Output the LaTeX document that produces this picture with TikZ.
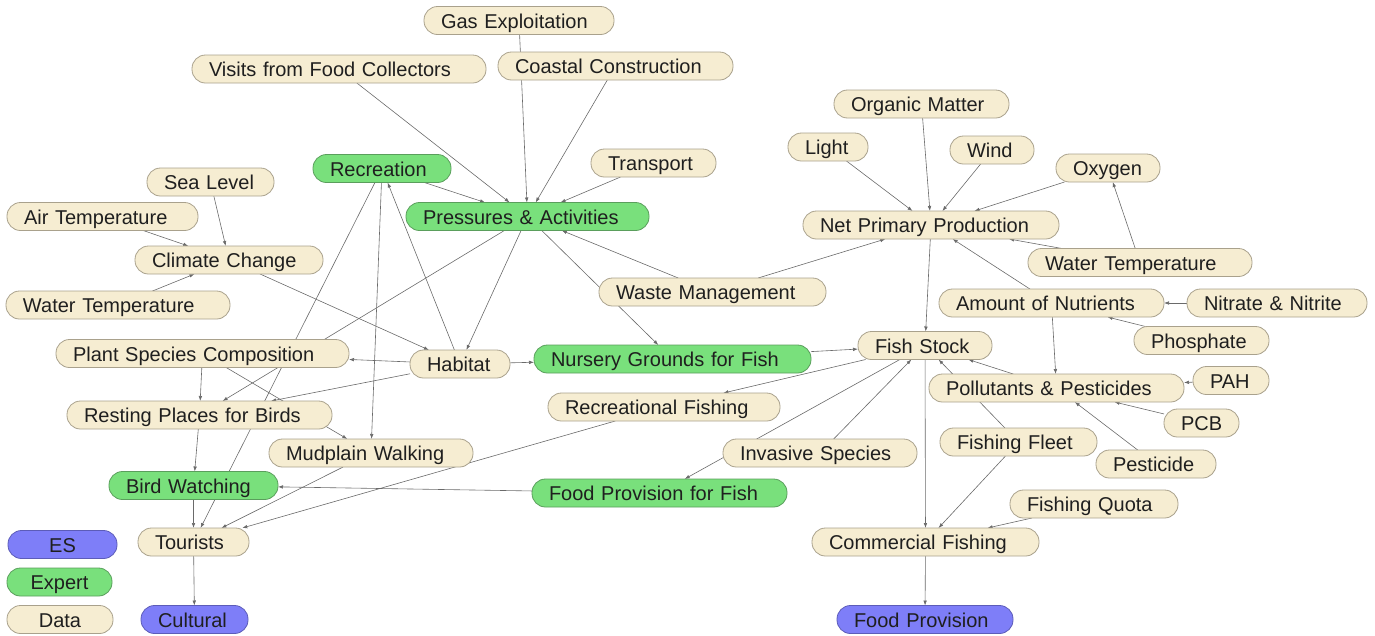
\documentclass[tikz,border=0pt]{standalone}
\usepackage{fontspec}
\setmainfont{Liberation Sans}
\usetikzlibrary{arrows.meta,backgrounds}

\definecolor{databg}{HTML}{F6EDD2}
\definecolor{dataln}{HTML}{A9A18C}
\definecolor{expbg}{HTML}{79E07C}
\definecolor{expln}{HTML}{5A9E5C}
\definecolor{esbg}{HTML}{7E7EF8}
\definecolor{esln}{HTML}{5C5CB8}
\definecolor{edgeln}{HTML}{6A6A6A}

\tikzset{
  box/.style={rectangle, rounded corners=13.5pt, anchor=west, outer sep=0pt,
    minimum height=28pt, inner ysep=0pt, inner xsep=17pt, align=left,
    text height=16pt, text depth=1pt, line width=0.8pt,
    font=\fontsize{20pt}{24pt}\selectfont, text=black!88},
  bw/.code={\pgfmathsetmacro\boxtw{#1-34}\tikzset{text width=\boxtw pt}},
  databox/.style={box, fill=databg, draw=dataln, bw=#1},
  expbox/.style={box, fill=expbg, draw=expln, bw=#1},
  esbox/.style={box, fill=esbg, draw=esln, bw=#1},
  legend/.style={align=center},
  link/.style={draw=edgeln, line width=0.6pt, -{Latex[length=5pt,width=3.6pt]}},
}

\begin{document}
\begin{tikzpicture}[x=1pt, y=-1pt]
\useasboundingbox (0,0) rectangle (1375,635);

% top: pressures and their drivers
\node[databox=190] (gas) at (424,20.5) {Gas Exploitation};
\node[databox=294] (visits) at (192,69) {Visits from Food Collectors};
\node[databox=235] (coastal) at (498,66) {Coastal Construction};
\node[databox=125] (transport) at (591,163) {Transport};
\node[expbox=138] (recreation) at (313,168.5) {Recreation};
\node[expbox=243] (pressures) at (406,216.5) {Pressures \& Activities};
\node[databox=227] (waste) at (599,292) {Waste Management};

% climate block
\node[databox=127] (sealevel) at (147,182) {Sea Level};
\node[databox=191] (airtemp) at (7,216.5) {Air Temperature};
\node[databox=188] (climate) at (135,260) {Climate Change};
\node[databox=224] (watertempL) at (6,305) {Water Temperature};

% primary production block
\node[databox=175] (organic) at (834,104) {Organic Matter};
\node[databox=80] (light) at (788,147) {Light};
\node[databox=84] (wind) at (950,150) {Wind};
\node[databox=104] (oxygen) at (1056,168) {Oxygen};
\node[databox=256] (npp) at (803,225) {Net Primary Production};
\node[databox=224] (watertempR) at (1028,262.5) {Water Temperature};
\node[databox=225] (nutrients) at (939,303) {Amount of Nutrients};
\node[databox=180] (nitrate) at (1187,303) {Nitrate \& Nitrite};
\node[databox=135] (phosphate) at (1134,340.5) {Phosphate};

% fish block
\node[databox=134] (fishstock) at (858,345.5) {Fish Stock};
\node[databox=76] (pah) at (1193,380.5) {PAH};
\node[databox=255] (pollutants) at (929,388) {Pollutants \& Pesticides};
\node[databox=75] (pcb) at (1164,423) {PCB};
\node[databox=157] (fleet) at (940,442) {Fishing Fleet};
\node[databox=120] (pesticide) at (1096,464) {Pesticide};
\node[databox=168] (quota) at (1010,504) {Fishing Quota};
\node[databox=227] (commercial) at (812,542) {Commercial Fishing};
\node[esbox=176] (foodprov) at (837,619.5) {Food Provision};
\node[databox=194] (invasive) at (723,453) {Invasive Species};

% habitat block
\node[databox=100] (habitat) at (410,364) {Habitat};
\node[expbox=277] (nursery) at (534,359) {Nursery Grounds for Fish};
\node[databox=232] (recfishing) at (548,407) {Recreational Fishing};
\node[expbox=255] (foodfish) at (532,493) {Food Provision for Fish};
\node[databox=293] (psc) at (56,353.5) {Plant Species Composition};
\node[databox=265] (rpb) at (67,415) {Resting Places for Birds};
\node[databox=204] (mudplain) at (269,453) {Mudplain Walking};
\node[expbox=169] (birdwatch) at (109,485.5) {Bird Watching};
\node[databox=111] (tourists) at (138,542) {Tourists};
\node[esbox=107] (cultural) at (141,619.5) {Cultural};

% legend
\node[esbox=109, legend] (lges) at (8,544.5) {ES};
\node[expbox=105, legend] (lgexpert) at (7,582) {Expert};
\node[databox=106, legend] (lgdata) at (7,619.5) {Data};

\begin{scope}[on background layer]
  \draw[link] (airtemp) -- (climate);
  \draw[link] (sealevel) -- (climate);
  \draw[link] (watertempL) -- (climate);
  \draw[link] (climate) -- (habitat);

  \draw[link] (visits) -- (pressures);
  \draw[link] (gas) -- (pressures);
  \draw[link] (coastal) -- (pressures);
  \draw[link] (transport) -- (pressures);
  \draw[link] (recreation) -- (pressures);
  \draw[link] (waste) -- (pressures);
  \draw[link] (waste) -- (npp);
  \draw[link] (pressures) -- (nursery);
  \draw[link] (pressures) -- (habitat);
  \draw[link] (pressures) -- (rpb);

  \draw[link] (psc) -- (rpb);
  \draw[link] (psc) -- (mudplain);
  \draw[link] (recreation) -- (tourists);
  \draw[link] (recreation) -- (mudplain);
  \draw[link] (habitat) -- (recreation);
  \draw[link] (habitat) -- (psc);
  \draw[link] (habitat) -- (rpb);
  \draw[link] (habitat) -- (nursery);
  \draw[link] (rpb) -- (birdwatch);
  \draw[link] (birdwatch) -- (tourists);
  \draw[link] (mudplain) -- (tourists);
  \draw[link] (recfishing) -- (tourists);
  \draw[link] (foodfish) -- (birdwatch);
  \draw[link] (tourists) -- (cultural);

  \draw[link] (nursery) -- (fishstock);
  \draw[link] (fishstock) -- (recfishing);
  \draw[link] (fishstock) -- (foodfish);
  \draw[link] (invasive) -- (fishstock);
  \draw[link] (npp) -- (fishstock);
  \draw[link] (fishstock) -- (commercial);
  \draw[link] (fleet) -- (fishstock);
  \draw[link] (pollutants) -- (fishstock);
  \draw[link] (fleet) -- (commercial);
  \draw[link] (quota) -- (commercial);
  \draw[link] (commercial) -- (foodprov);

  \draw[link] (pah) -- (pollutants);
  \draw[link] (pcb) -- (pollutants);
  \draw[link] (pesticide) -- (pollutants);
  \draw[link] (nutrients) -- (pollutants);
  \draw[link] (nutrients) -- (npp);
  \draw[link] (nitrate) -- (nutrients);
  \draw[link] (phosphate) -- (nutrients);
  \draw[link] (watertempR) -- (npp);
  \draw[link] (watertempR) -- (oxygen);
  \draw[link] (oxygen) -- (npp);
  \draw[link] (wind) -- (npp);
  \draw[link] (organic) -- (npp);
  \draw[link] (light) -- (npp);
\end{scope}
\end{tikzpicture}
\end{document}
